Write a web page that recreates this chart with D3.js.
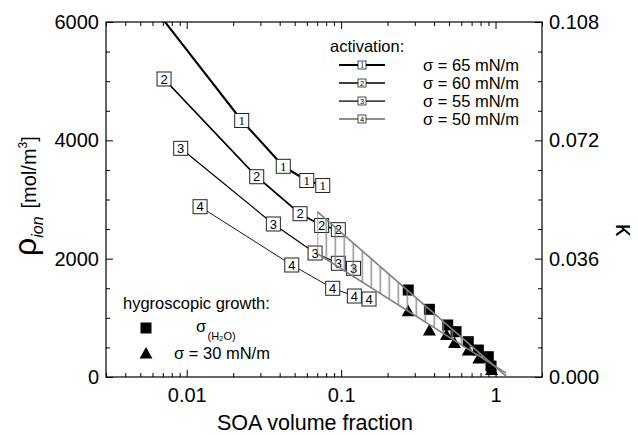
<!DOCTYPE html>
<html><head><meta charset="utf-8">
<script src="https://cdn.jsdelivr.net/npm/d3@7"></script>
<style>
body{margin:0;background:#fff}
svg{display:block}
text{font-family:"Liberation Sans",Arial,sans-serif;fill:#000}
</style>
</head><body>
<svg id="c" width="638" height="435"></svg>
<script>
// ---------- data ----------
const xTicksMajor = [0.01, 0.1, 1];
const xTickLabels = ["0.01", "0.1", "1"];
const xTicksMinor = [0.003,0.004,0.005,0.006,0.007,0.008,0.009,0.02,0.03,0.04,0.05,0.06,0.07,0.08,0.09,0.2,0.3,0.4,0.5,0.6,0.7,0.8,0.9,2];
const yTicksMajor = [0, 2000, 4000, 6000];
const yTicksMinor = [500,1000,1500,2500,3000,3500,4500,5000,5500];
const kTicksMajor = [0, 0.036, 0.072, 0.108];
const kTickLabels = ["0.000", "0.036", "0.072", "0.108"];
const kTicksMinor = [0.009,0.018,0.027,0.045,0.054,0.063,0.081,0.09,0.099];

const actLabels = ["1", "2", "3", "4"];
const actSigma = ["σ = 65 mN/m", "σ = 60 mN/m", "σ = 55 mN/m", "σ = 50 mN/m"];
const act1X = [0.0055, 0.0227, 0.0422, 0.0599, 0.0760];
const act1Y = [6400, 4335, 3561, 3321, 3237];
const act2X = [0.00713, 0.0284, 0.0542, 0.0748, 0.0959];
const act2Y = [5037, 3385, 2760, 2560, 2490];
const act3X = [0.00914, 0.0364, 0.0678, 0.0959, 0.1203];
const act3Y = [3865, 2586, 2096, 1922, 1837];
const act4X = [0.0122, 0.0479, 0.0882, 0.1218, 0.1516];
const act4Y = [2878, 1893, 1499, 1369, 1318];

const hgLabels = ["σ", "(H₂O)", "σ = 30 mN/m", "hygroscopic growth:"];
const hgSquareX = [0.272, 0.373, 0.490, 0.555, 0.666, 0.774, 0.898, 0.935];
const hgSquareY = [1470, 1144, 879, 766, 597, 456, 343, 185];
const hgTriX = [0.272, 0.373, 0.481, 0.542, 0.666, 0.780, 0.943];
const hgTriY = [1121, 794, 718, 583, 456, 321, 127];

const bandX = [0.070, 1.17];
const bandUpper = [2794, 15];
const bandLower = [2087, 66];

// ---------- layout / style ----------
const L = 106, R = 542, T = 22, B = 377;
const actWidths = [2.1, 1.7, 1.25, 0.9];
const actFonts = ['"Liberation Serif","Times New Roman",serif', null, null, null];
const gray = "#808080";

const svg = d3.select("#c");
const xs = d3.scaleLog().domain([0.003, 2]).range([L, R]);
const ys = d3.scaleLinear().domain([0, 6000]).range([B, T]);
const ks = d3.scaleLinear().domain([0, 0.108]).range([B, T]);

const defs = svg.append("defs");
defs.append("clipPath").attr("id", "plotclip")
  .append("rect").attr("x", L).attr("y", T).attr("width", R - L).attr("height", B - T);
const bx = xs(bandX[0]);
const pat = defs.append("pattern").attr("id", "hatch")
  .attr("patternUnits", "userSpaceOnUse").attr("width", 9).attr("height", 20)
  .attr("x", bx - 0.6).attr("y", 0);
pat.append("line").attr("x1", 0.6).attr("x2", 0.6).attr("y1", 0).attr("y2", 20)
  .attr("stroke", gray).attr("stroke-width", 1.3);

// ---------- axes ----------
function styleAxis(g, fs) {
  g.select(".domain").remove();
  g.selectAll(".tick line").attr("stroke", "#000").attr("stroke-width", 1);
  g.selectAll(".tick text").attr("font-size", fs).attr("fill", "#000")
    .style("font-family", '"Liberation Sans",Arial,sans-serif');
}
const fsTick = 20;
svg.append("g").attr("transform", `translate(0,${B})`)
  .call(d3.axisBottom(xs).tickValues(xTicksMajor).tickFormat((d, i) => xTickLabels[i]).tickSize(-7).tickPadding(11))
  .call(g => styleAxis(g, fsTick));
svg.append("g").attr("transform", `translate(0,${B})`)
  .call(d3.axisBottom(xs).tickValues(xTicksMinor).tickFormat("").tickSize(-4))
  .call(g => styleAxis(g, fsTick));
svg.append("g").attr("transform", `translate(0,${T})`)
  .call(d3.axisTop(xs).tickValues(xTicksMajor).tickFormat("").tickSize(-7))
  .call(g => styleAxis(g, fsTick));
svg.append("g").attr("transform", `translate(0,${T})`)
  .call(d3.axisTop(xs).tickValues(xTicksMinor).tickFormat("").tickSize(-4))
  .call(g => styleAxis(g, fsTick));
svg.append("g").attr("transform", `translate(${L},0)`)
  .call(d3.axisLeft(ys).tickValues(yTicksMajor).tickFormat(d3.format("d")).tickSize(-7).tickPadding(7))
  .call(g => styleAxis(g, fsTick));
svg.append("g").attr("transform", `translate(${L},0)`)
  .call(d3.axisLeft(ys).tickValues(yTicksMinor).tickFormat("").tickSize(-4))
  .call(g => styleAxis(g, fsTick));
svg.append("g").attr("transform", `translate(${R},0)`)
  .call(d3.axisRight(ks).tickValues(kTicksMajor).tickFormat((d, i) => kTickLabels[i]).tickSize(-7).tickPadding(7))
  .call(g => styleAxis(g, fsTick));
svg.append("g").attr("transform", `translate(${R},0)`)
  .call(d3.axisRight(ks).tickValues(kTicksMinor).tickFormat("").tickSize(-4))
  .call(g => styleAxis(g, fsTick));

svg.append("rect").attr("x", L).attr("y", T).attr("width", R - L).attr("height", B - T)
  .attr("fill", "none").attr("stroke", "#000").attr("stroke-width", 1.2);

// axis titles
svg.append("text").attr("x", 315).attr("y", 430).attr("text-anchor", "middle")
  .attr("font-size", 21.5).text("SOA volume fraction");
const yl = svg.append("text").attr("transform", "translate(36,256) rotate(-90)");
yl.append("tspan").attr("font-size", 32).text("ρ");
yl.append("tspan").attr("font-size", 16).attr("font-style", "italic").attr("dy", 7).text("ion");
yl.append("tspan").attr("font-size", 20).attr("dy", -7).attr("dx", 8).text("[mol/m");
yl.append("tspan").attr("font-size", 12).attr("dy", -9).text("3");
yl.append("tspan").attr("font-size", 20).attr("dy", 9).text("]");
svg.append("text").attr("transform", "translate(616,230) rotate(90)")
  .attr("text-anchor", "middle").attr("font-size", 25).text("κ");

// ---------- plot ----------
const plot = svg.append("g").attr("clip-path", "url(#plotclip)");
const actX = [act1X, act2X, act3X, act4X];
const actY = [act1Y, act2Y, act3Y, act4Y];
const line = d3.line().x(d => xs(d[0])).y(d => ys(d[1]));
actX.forEach((xa, s) => {
  const pts = xa.map((x, i) => [x, actY[s][i]]);
  plot.append("path").attr("d", line(pts)).attr("fill", "none")
    .attr("stroke", "#000").attr("stroke-width", actWidths[s]);
});
const [yMin, yMax] = ys.domain();
actX.forEach((xa, s) => {
  // markers are only drawn for points inside the axis range (the line still runs off the top)
  const pts = xa.map((x, i) => [x, actY[s][i]]).filter(p => p[1] >= yMin && p[1] <= yMax);
  const g = plot.append("g");
  pts.forEach(p => {
    const cx = xs(p[0]), cy = ys(p[1]);
    g.append("rect").attr("x", cx - 7).attr("y", cy - 7).attr("width", 14).attr("height", 14)
      .attr("fill", "#fff").attr("stroke", "#222").attr("stroke-width", 1);
    const t = g.append("text").attr("x", cx).attr("y", cy + 4.7).attr("text-anchor", "middle")
      .attr("font-size", 13).text(actLabels[s]);
    if (actFonts[s]) t.style("font-family", actFonts[s]);
  });
});

// hygroscopic growth markers
hgSquareX.forEach((x, i) => {
  plot.append("rect").attr("x", xs(x) - 5.5).attr("y", ys(hgSquareY[i]) - 5.5)
    .attr("width", 11).attr("height", 11).attr("fill", "#000");
});
const triPath = (cx, cy) => `M${cx - 6.5},${cy + 5.5}L${cx + 6.5},${cy + 5.5}L${cx},${cy - 6}Z`;
hgTriX.forEach((x, i) => {
  plot.append("path").attr("d", triPath(xs(x), ys(hgTriY[i]))).attr("fill", "#000");
});

// band
const idx = bandX.map((d, i) => i);
plot.append("path")
  .attr("d", d3.area().x(i => xs(bandX[i])).y0(i => ys(bandLower[i])).y1(i => ys(bandUpper[i]))(idx))
  .attr("fill", "url(#hatch)").attr("stroke", "none");
[bandUpper, bandLower].forEach(arr => {
  plot.append("path").attr("d", line(bandX.map((x, i) => [x, arr[i]])))
    .attr("fill", "none").attr("stroke", gray).attr("stroke-width", 1.6);
});

// ---------- legends ----------
const lg = svg.append("g");
lg.append("text").attr("x", 330).attr("y", 52).attr("font-size", 16.5).text("activation:");
const rowY = [65, 83, 101, 119];
actLabels.forEach((lab, s) => {
  const y = rowY[s];
  lg.append("line").attr("x1", 339).attr("x2", 385).attr("y1", y).attr("y2", y)
    .attr("stroke", "#000").attr("stroke-width", actWidths[s]);
  lg.append("rect").attr("x", 358).attr("y", y - 4).attr("width", 8).attr("height", 8)
    .attr("fill", "#fff").attr("stroke", "#222").attr("stroke-width", 0.8);
  const t = lg.append("text").attr("x", 362).attr("y", y + 2.8).attr("text-anchor", "middle")
    .attr("font-size", 7.5).text(lab);
  if (actFonts[s]) t.style("font-family", actFonts[s]);
  lg.append("text").attr("x", 423).attr("y", y + 5.5).attr("font-size", 16.5).text(actSigma[s]);
});

lg.append("text").attr("x", 123).attr("y", 309).attr("font-size", 16.5).text(hgLabels[3]);
lg.append("rect").attr("x", 140.5).attr("y", 322.5).attr("width", 11).attr("height", 11).attr("fill", "#000");
lg.append("path").attr("d", triPath(146, 353)).attr("fill", "#000");
lg.append("text").attr("x", 196).attr("y", 332).attr("font-size", 16.5).text(hgLabels[0]);
lg.append("text").attr("x", 207.5).attr("y", 340).attr("font-size", 11).text(hgLabels[1]);
lg.append("text").attr("x", 174).attr("y", 358.5).attr("font-size", 16.5).text(hgLabels[2]);
</script>
</body></html>
